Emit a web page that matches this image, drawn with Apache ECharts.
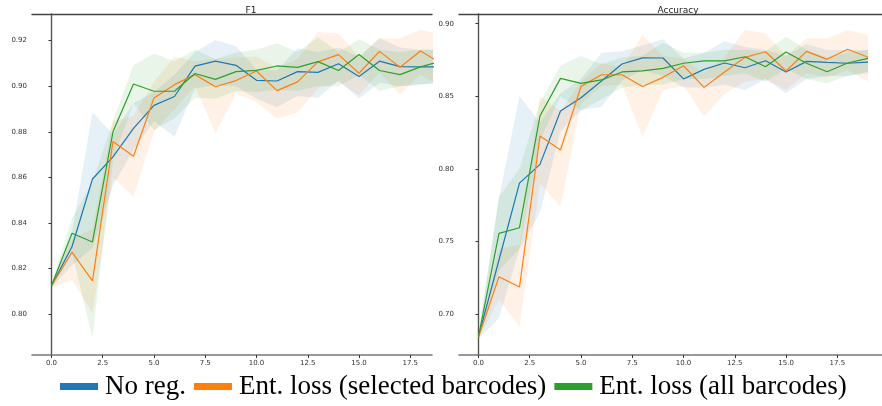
<!DOCTYPE html>
<html>
<head>
<meta charset="utf-8">
<script src="https://cdn.jsdelivr.net/npm/echarts@6/dist/echarts.min.js"></script>
<style>html,body{margin:0;padding:0;background:#fff}#c{width:882px;height:406px}</style>
</head>
<body>
<div id="c"></div>
<script>
const epochs = [0,1,2,3,4,5,6,7,8,9,10,11,12,13,14,15,16,17,18,19];
const seriesNames = ['No reg.', 'Ent. loss (selected barcodes)', 'Ent. loss (all barcodes)'];
const xTicks = [0, 2.5, 5, 7.5, 10, 12.5, 15, 17.5];
const f1Ticks = [0.80, 0.82, 0.84, 0.86, 0.88, 0.90, 0.92];
const accTicks = [0.70, 0.75, 0.80, 0.85, 0.90];

// F1
const f1NoReg   = [0.8125,0.8296,0.8593,0.869,0.8815,0.8916,0.8955,0.9088,0.911,0.9092,0.9026,0.9023,0.9064,0.9061,0.9099,0.9043,0.911,0.9086,0.9085,0.9085];
const f1NoRegLo = [0.8115,0.8215,0.829,0.8566,0.872,0.8846,0.8778,0.899,0.9005,0.900,0.8945,0.8908,0.8957,0.8949,0.9025,0.8946,0.9015,0.900,0.901,0.901];
const f1NoRegHi = [0.8135,0.836,0.8886,0.879,0.8926,0.8975,0.905,0.915,0.9203,0.9175,0.9075,0.907,0.9167,0.915,0.917,0.913,0.9211,0.917,0.916,0.916];
const f1EntSel   = [0.8125,0.8272,0.8146,0.8758,0.8693,0.8949,0.9007,0.9051,0.8998,0.9025,0.9067,0.8981,0.9019,0.9107,0.9139,0.9057,0.9153,0.9083,0.9155,0.910];
const f1EntSelLo = [0.8115,0.815,0.8005,0.86,0.8515,0.880,0.890,0.900,0.8794,0.8968,0.893,0.8857,0.8885,0.899,0.902,0.8961,0.906,0.8965,0.905,0.900];
const f1EntSelHi = [0.8135,0.833,0.8375,0.8846,0.887,0.902,0.9131,0.911,0.912,0.9125,0.9131,0.908,0.912,0.9238,0.9232,0.913,0.9211,0.9211,0.9247,0.923];
const f1EntAll   = [0.8125,0.8355,0.8317,0.880,0.901,0.8978,0.8978,0.9056,0.903,0.9064,0.907,0.9089,0.9083,0.9108,0.9069,0.9139,0.9069,0.9051,0.9085,0.911];
const f1EntAllLo = [0.8115,0.827,0.7896,0.868,0.8925,0.8807,0.886,0.895,0.8945,0.8979,0.8975,0.8985,0.898,0.900,0.900,0.905,0.898,0.900,0.9005,0.902];
const f1EntAllHi = [0.8135,0.842,0.858,0.8849,0.9092,0.9144,0.911,0.916,0.912,0.9148,0.9161,0.9188,0.915,0.9215,0.915,0.9206,0.916,0.915,0.916,0.916];

// Accuracy
const accNoReg   = [0.6846,0.7374,0.7903,0.8032,0.8399,0.8491,0.8606,0.8723,0.8765,0.8764,0.862,0.8686,0.873,0.8697,0.8745,0.8668,0.8741,0.8734,0.8728,0.8736];
const accNoRegLo = [0.683,0.6975,0.745,0.77,0.826,0.8405,0.8428,0.861,0.868,0.864,0.8562,0.856,0.858,0.8544,0.862,0.8521,0.862,0.864,0.864,0.866];
const accNoRegHi = [0.686,0.78,0.8502,0.832,0.852,0.862,0.880,0.881,0.885,0.8893,0.876,0.880,0.8879,0.884,0.882,0.878,0.886,0.882,0.882,0.882];
const accEntSel   = [0.6843,0.7259,0.7188,0.8227,0.8131,0.8569,0.8649,0.8649,0.8568,0.8631,0.8711,0.8562,0.8668,0.8769,0.8807,0.8675,0.881,0.8755,0.8824,0.8769];
const accEntSelLo = [0.683,0.71,0.6915,0.79,0.774,0.845,0.857,0.858,0.8222,0.8544,0.857,0.836,0.8516,0.86,0.862,0.8544,0.866,0.863,0.868,0.860];
const accEntSelHi = [0.686,0.745,0.748,0.85,0.84,0.86,0.873,0.870,0.8922,0.878,0.876,0.866,0.877,0.8957,0.8934,0.878,0.8899,0.890,0.8957,0.8922];
const accEntAll   = [0.6846,0.7557,0.7596,0.8365,0.8624,0.859,0.8613,0.8668,0.8675,0.8693,0.8728,0.8745,0.8744,0.8773,0.8704,0.8805,0.8728,0.867,0.873,0.8762];
const accEntAllLo = [0.683,0.73,0.745,0.82,0.85,0.8405,0.848,0.856,0.858,0.858,0.862,0.862,0.864,0.866,0.86,0.869,0.862,0.859,0.864,0.867];
const accEntAllHi = [0.686,0.781,0.80,0.846,0.8711,0.878,0.872,0.877,0.878,0.8869,0.880,0.880,0.882,0.882,0.881,0.8911,0.882,0.877,0.880,0.882];

const colors = ['#1f77b4', '#ff7f0e', '#2ca02c'];
const bandColors = ['rgba(31,119,180,0.11)', 'rgba(255,127,14,0.11)', 'rgba(44,160,44,0.11)'];

const panels = [
  { mean: [f1NoReg, f1EntSel, f1EntAll], lo: [f1NoRegLo, f1EntSelLo, f1EntAllLo], hi: [f1NoRegHi, f1EntSelHi, f1EntAllHi] },
  { mean: [accNoReg, accEntSel, accEntAll], lo: [accNoRegLo, accEntSelLo, accEntAllLo], hi: [accNoRegHi, accEntSelHi, accEntAllHi] }
];

// value first, epoch second so that stacking applies to the value dimension
const pairVY = arr => arr.map((v, i) => [v, epochs[i]]);
const pair = arr => arr.map((v, i) => [epochs[i], v]);
const series = [];
panels.forEach((p, g) => {
  for (let k = 0; k < 3; k++) {
    const stack = 'band' + g + '_' + k;
    series.push({
      type: 'line', xAxisIndex: g * 2, yAxisIndex: g, stack: stack, silent: true,
      dimensions: ['val', 'epoch'], encode: { x: 1, y: 0 },
      data: pairVY(p.lo[k]), showSymbol: false, symbol: 'none',
      lineStyle: { opacity: 0 }, color: colors[k], z: 1
    });
    series.push({
      type: 'line', xAxisIndex: g * 2, yAxisIndex: g, stack: stack, silent: true,
      dimensions: ['val', 'epoch'], encode: { x: 1, y: 0 },
      data: pairVY(p.hi[k].map((v, i) => v - p.lo[k][i])), showSymbol: false, symbol: 'none',
      lineStyle: { opacity: 0 }, areaStyle: { color: bandColors[k], opacity: 1 }, color: colors[k], z: 1
    });
  }
  for (let k = 0; k < 3; k++) {
    series.push({
      name: seriesNames[k], type: 'line', xAxisIndex: g * 2, yAxisIndex: g,
      data: pair(p.mean[k]), showSymbol: false, symbol: 'none',
      color: colors[k], lineStyle: { width: 1.2, color: colors[k] }, z: 3
    });
  }
});

const tickFont = { fontFamily: 'DejaVu Sans', fontSize: 7, color: '#333' };
function xAxes(gi, max) {
  return [
    { type: 'value', gridIndex: gi, min: -0.95, max: max, position: 'bottom',
      axisLine: { show: true, lineStyle: { color: '#777', width: 1.6 } },
      axisTick: { show: true, length: 3, lineStyle: { color: '#333' }, customValues: xTicks },
      axisLabel: Object.assign({ margin: 5, customValues: xTicks, formatter: v => v.toFixed(1) }, tickFont),
      splitLine: { show: false } },
    { type: 'value', gridIndex: gi, min: -0.95, max: max, position: 'top',
      axisLine: { show: true, lineStyle: { color: '#444', width: 1.4 } },
      axisTick: { show: false }, axisLabel: { show: false }, splitLine: { show: false } }
  ];
}
function yAxis(gi, min, max, ticks) {
  return { type: 'value', gridIndex: gi, min: min, max: max,
    axisLine: { show: true, lineStyle: { color: '#555', width: 1.4 } },
    axisTick: { show: true, length: 3, lineStyle: { color: '#333' }, customValues: ticks },
    axisLabel: Object.assign({ margin: 5, customValues: ticks, formatter: v => v.toFixed(2) }, tickFont),
    splitLine: { show: false } };
}

const chart = echarts.init(document.getElementById('c'), null, { renderer: 'canvas' });
chart.setOption({
  animation: false,
  backgroundColor: '#fff',
  title: [
    { text: 'F1', left: 246, top: 1, textAlign: 'center', textStyle: { fontFamily: 'DejaVu Sans', fontSize: 9, fontWeight: 'normal', color: '#222' } },
    { text: 'Accuracy', left: 673, top: 1, textAlign: 'center', textStyle: { fontFamily: 'DejaVu Sans', fontSize: 9, fontWeight: 'normal', color: '#222' } }
  ],
  grid: [
    { left: 32, top: 14, width: 400, height: 341 },
    { left: 459, top: 14, width: 423, height: 341 }
  ],
  xAxis: [].concat(xAxes(0, 18.56), xAxes(1, 19.68)),
  yAxis: [yAxis(0, 0.7821, 0.9317, f1Ticks), yAxis(1, 0.672, 0.9067, accTicks)],
  legend: {
    data: seriesNames, left: 55, top: 368, icon: 'rect', itemWidth: 38, itemHeight: 7, itemGap: 8,
    textStyle: { fontFamily: 'Liberation Serif', fontSize: 27, color: '#000', padding: [0, 0, 0, 2] }
  },
  series: series
});
</script>
</body>
</html>
